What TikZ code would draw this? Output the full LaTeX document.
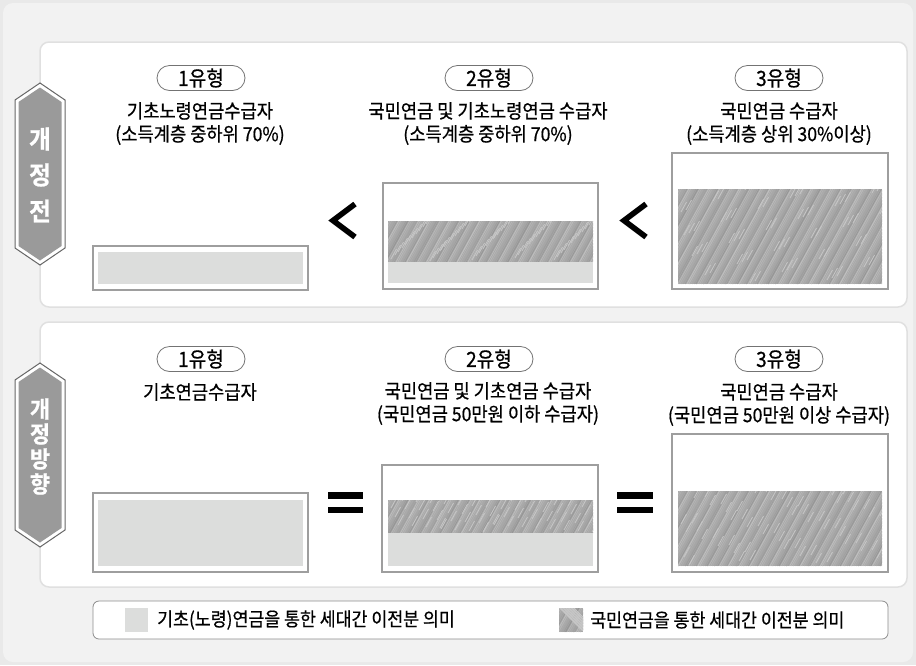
\documentclass[tikz,border=0pt]{standalone}
\usepackage{fontspec}
\newfontfamily\kr[FakeStretch=0.91,FakeBold=0.6]{Noto Sans CJK KR}
\newfontfamily\krb[FakeStretch=0.95,FakeBold=1.0]{Noto Sans CJK KR Bold}
\definecolor{pagebg}{HTML}{F2F2F2}
\definecolor{pageout}{HTML}{E9E9E9}
\definecolor{plaingray}{HTML}{DCDDDC}
\definecolor{tagfill}{HTML}{9A9A9A}
\newcommand\hatchfill[4]{%
  \begin{scope}
    \clip (#1,#2) rectangle (#3,#4);
    \fill[black!34] (#1,#2) rectangle (#3,#4);
    \pgfmathsetmacro\hh{#4-#2}
    \foreach \k in {0,...,150}{%
      \pgfmathsetmacro\xx{#1-0.55*\hh+\k*1.8}
      \pgfmathsetmacro\sh{25+mod(\k*37,17)}
      \pgfmathsetmacro\lw{0.5+0.2*mod(\k*5,4)}
      \draw[black!\sh, line width=\lw] (\xx,#4) -- ++(0.55*\hh,-\hh);
    }
    \foreach \k in {0,...,60}{%
      \pgfmathsetmacro\xa{#1+mod(\k*53,int(#3-#1))}
      \pgfmathsetmacro\ya{#2+mod(\k*29,int(\hh))}
      \draw[black!22, line width=0.8] (\xa,\ya) -- ++(5.5,-10);
    }
  \end{scope}}
\tikzset{
  panel/.style={fill=white, draw=black!12, line width=1.5, rounded corners=9},
  pill/.style={draw=black!55, fill=white, rounded corners=12.5, minimum width=88, minimum height=25, inner sep=0, line width=0.8, font=\kr\fontsize{21}{21}\selectfont},
  lbl/.style={font=\kr\fontsize{19.4}{23}\selectfont, align=center, text=black, inner sep=0},
  frame/.style={draw=black!38, fill=white, line width=1.2},
  plainfill/.style={fill=plaingray},
  tagshape/.style={fill=white, draw=black!60, line width=1},
  taginner/.style={fill=tagfill},
  tagtxt/.style={text=white, inner sep=0, font=\krb\fontsize{25}{25}\selectfont},
  tagtxtsm/.style={text=white, inner sep=0, font=\krb\fontsize{23}{23}\selectfont},
  sym/.style={line width=5.6, black},
  eqbar/.style={fill=black},
  legtxt/.style={font=\kr\fontsize{19}{19}\selectfont, anchor=west, inner sep=0}
}
\begin{document}
\begin{tikzpicture}[x=1pt,y=-1pt]
\useasboundingbox (0,0) rectangle (916,665);
% page background
\fill[pageout] (0,0) rectangle (916,665);
\fill[pagebg, rounded corners=10] (3,3) rectangle (913,662);

% panels
\draw[panel] (40,42) rectangle (907,307);
\draw[panel] (40,322) rectangle (907,587);

% ---------------- top row ----------------
\node[pill] (p1a) at (201,78) {1유형};
\node[pill] (p2a) at (489,78) {2유형};
\node[pill] (p3a) at (779,78) {3유형};
\node[lbl] (t1a) at (200,123.5) {기초노령연금수급자\\(소득계층 중하위 70\%)};
\node[lbl] (t2a) at (488,123.5) {국민연금 및 기초노령연금 수급자\\(소득계층 중하위 70\%)};
\node[lbl] (t3a) at (779,123.5) {국민연금 수급자\\(소득계층 상위 30\%이상)};

% boxes top
\draw[frame] (93,246) rectangle (308,290);
\fill[plainfill] (98,252) rectangle (303,284);
\draw[frame] (383,183) rectangle (598,289);
\hatchfill{388}{221}{593}{262}
\fill[plainfill] (388,262) rectangle (593,283);
\draw[frame] (672,153) rectangle (888,289);
\hatchfill{678}{189}{882}{284}

% less-than symbols
\draw[sym] (355,204) -- (333,220.5) -- (355,237);
\draw[sym] (646,204) -- (624,220.5) -- (646,237);

% ---------------- bottom row ----------------
\node[pill] (p1b) at (201,359) {1유형};
\node[pill] (p2b) at (489,359) {2유형};
\node[pill] (p3b) at (779,359) {3유형};
\node[lbl] (t1b) at (200,392) {기초연금수급자};
\node[lbl] (t2b) at (488,403.5) {국민연금 및 기초연금 수급자\\(국민연금 50만원 이하 수급자)};
\node[lbl] (t3b) at (779,404.5) {국민연금 수급자\\(국민연금 50만원 이상 수급자)};

\draw[frame] (93,493) rectangle (308,572);
\fill[plainfill] (98,500) rectangle (303,566);
\draw[frame] (382,465) rectangle (598,572);
\hatchfill{388}{500}{593}{533}
\fill[plainfill] (388,533) rectangle (593,566);
\draw[frame] (672,434) rectangle (888,572);
\hatchfill{678}{491}{882}{566}

% equals symbols
\fill[eqbar] (328,492) rectangle (363,499);
\fill[eqbar] (328,507) rectangle (363,513);
\fill[eqbar] (617,492) rectangle (653,499);
\fill[eqbar] (617,507) rectangle (653,513);

% ---------------- side tags ----------------
\draw[tagshape] (40,83) -- (65,100) -- (65,248) -- (40,265) -- (15,248) -- (15,100) -- cycle;
\fill[taginner] (40,87.5) -- (61.5,102) -- (61.5,246) -- (40,260.5) -- (18.5,246) -- (18.5,102) -- cycle;
\node[tagtxt] (ga) at (40,139) {개};
\node[tagtxt] (gb) at (40,175) {정};
\node[tagtxt] (gc) at (40,211) {전};

\draw[tagshape] (40,363) -- (65,380) -- (65,530) -- (40,547) -- (15,530) -- (15,380) -- cycle;
\fill[taginner] (40,367.5) -- (61.5,382) -- (61.5,528) -- (40,542.5) -- (18.5,528) -- (18.5,382) -- cycle;
\node[tagtxtsm] (gd) at (40,409) {개};
\node[tagtxtsm] (ge) at (40,434) {정};
\node[tagtxtsm] (gf) at (40,459) {방};
\node[tagtxtsm] (gg) at (40,484) {향};

% ---------------- legend ----------------
\draw[fill=white, draw=black!45, line width=0.8, rounded corners=6] (93,601) rectangle (888,639);
\fill[plainfill] (125,608) rectangle (148,632);
\node[legtxt] (l1) at (157,620) {기초(노령)연금을 통한 세대간 이전분 의미};
\hatchfill{559}{608}{583}{632}
\node[legtxt] (l2) at (590,620) {국민연금을 통한 세대간 이전분 의미};
\end{tikzpicture}
\end{document}
